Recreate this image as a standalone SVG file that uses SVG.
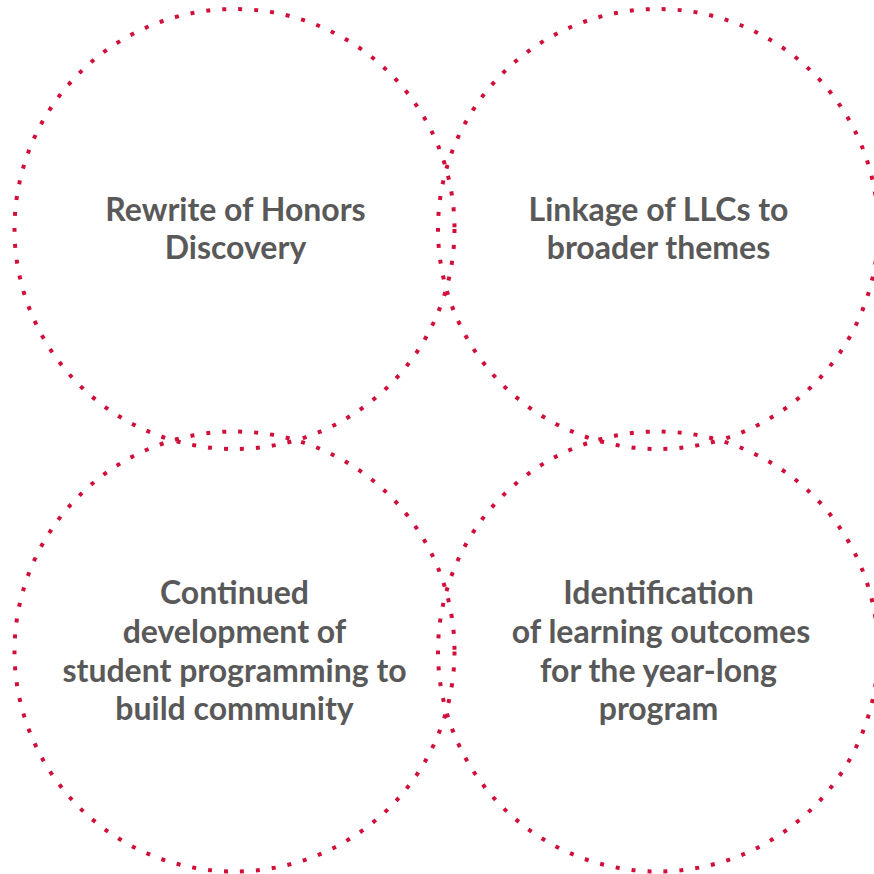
<svg xmlns="http://www.w3.org/2000/svg" width="874" height="874" viewBox="0 0 874 874">
<style>
.c{fill:none;stroke:#d0103a;stroke-width:4;stroke-dasharray:4 12}
.t{font-family:Lato,"Liberation Sans",sans-serif;font-weight:bold;font-size:32px;fill:#595959;text-anchor:middle}
</style>
<rect width="874" height="874" fill="#fff"/>
<g id="n1"><circle class="c" cx="234.5" cy="229" r="220"/>
<text class="t" x="235.5" y="221">Rewrite of Honors</text><text class="t" x="235.5" y="259">Discovery</text></g>
<g id="n2"><circle class="c" cx="658" cy="229" r="220"/>
<text class="t" x="658.5" y="221">Linkage of LLCs to</text><text class="t" x="658.5" y="259">broader themes</text></g>
<g id="n3"><circle class="c" cx="234.5" cy="651.5" r="220"/>
<text class="t" x="234.5" y="604">Continued</text><text class="t" x="234.5" y="643">development of</text><text class="t" x="234.5" y="682">student programming to</text><text class="t" x="234.5" y="720">build community</text></g>
<g id="n4"><circle class="c" cx="658" cy="651.5" r="220"/>
<text class="t" x="658.5" y="604">Identification</text><text class="t" x="661" y="643">of learning outcomes</text><text class="t" x="658.5" y="682">for the year-long</text><text class="t" x="658.5" y="720">program</text></g>
<g id="connectors"/>
</svg>
